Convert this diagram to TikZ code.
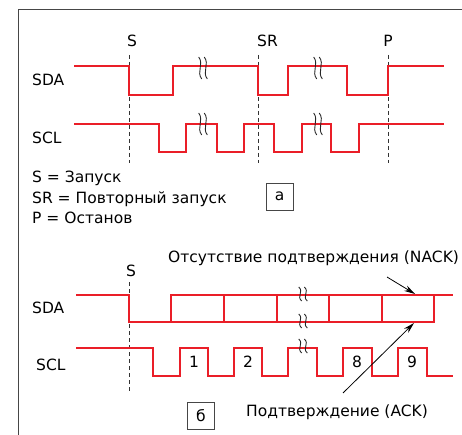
\documentclass[tikz,border=0pt]{standalone}
\usepackage{fontspec}
\setmainfont{DejaVu Sans}
\usetikzlibrary{arrows.meta}
\definecolor{sigred}{RGB}{234,30,40}
\definecolor{framegray}{RGB}{70,70,70}

% wavy break mark, two strokes around (#1,#2), half height #3
\newcommand{\brkmark}[3]{%
  \foreach \d in {-2.8,2.8}
    \draw[black!85,line width=0.9pt] ({#1+\d-1.5},{#2-#3}) .. controls ({#1+\d+4},{#2-#3/3}) and ({#1+\d-4},{#2+#3/3}) .. ({#1+\d+1.5},{#2+#3});}

\begin{document}
\begin{tikzpicture}[x=1pt,y=-1pt,
  sig/.style={draw=sigred,line width=1.7pt},
  guide/.style={black!80,line width=0.8pt,dash pattern=on 4pt off 3pt},
  lbl/.style={inner sep=0pt,font=\fontsize{15.5}{18}\selectfont},
  tag/.style={draw=framegray,line width=0.8pt,minimum width=27pt,minimum height=27pt,inner sep=0pt,font=\fontsize{15.5}{18}\selectfont},
  arr/.style={-{Stealth[length=11pt,width=6pt]},line width=0.8pt}]
\useasboundingbox (0,0) rectangle (462,435);
\draw[framegray,line width=1pt] (462,10) -- (18,10) -- (18,435);

% (a) start, repeated start, stop
\node[lbl,anchor=base] (sa) at (132,47) {S};
\node[lbl,anchor=base west] (sra) at (257,47) {SR};
\node[lbl,anchor=base] (pa) at (388,47) {P};
\node[lbl,anchor=base west] (sdaa) at (32,86) {SDA};
\node[lbl,anchor=base west] (scla) at (32,144) {SCL};

\draw[guide] (129,55) -- (129,163);
\draw[guide] (258,55) -- (258,163);
\draw[guide] (388,55) -- (388,163);

\draw[sig] (74,66) -- (129,66) -- (129,95) -- (173,95) -- (173,66) -- (258,66) -- (258,95)
  -- (288,95) -- (288,66) -- (347,66) -- (347,95) -- (388,95) -- (388,66) -- (444,66);
\draw[sig] (74,124) -- (159,124) -- (159,152) -- (186,152) -- (186,124) -- (217,124)
  -- (217,152) -- (244,152) -- (244,124) -- (274,124) -- (274,152) -- (302,152)
  -- (302,124) -- (331,124) -- (331,152) -- (359,152) -- (359,124) -- (444,124);
\brkmark{203}{68}{11}
\brkmark{203}{124}{11}
\brkmark{318}{68}{11}
\brkmark{318}{124}{11}

\node[lbl,anchor=base west] (leg1) at (32,183) {S = Запуск};
\node[lbl,anchor=base west] (leg2) at (32,204) {SR = Повторный запуск};
\node[lbl,anchor=base west] (leg3) at (32,224) {P = Останов};
\node[tag] (taga) at (279.5,196.5) {а};

% (b) bytes with acknowledge
\node[lbl,anchor=base] (sb) at (131,276) {S};
\node[lbl,anchor=base west] (sdab) at (32,313) {SDA};
\node[lbl,anchor=base west] (sclb) at (36,370) {SCL};
\draw[guide] (129,282) -- (129,392);

\draw[sig] (76,295) -- (129,295) -- (129,322) -- (434,322) -- (434,295) -- (453,295);
\draw[sig] (171,322) -- (171,295) -- (434,295);
\foreach \x in {224,277,329,382}
  \draw[sig] (\x,295) -- (\x,322);
\draw[sig] (76,348) -- (153,348) -- (153,376) -- (180,376) -- (180,348) -- (208,348)
  -- (208,376) -- (234,376) -- (234,348) -- (262,348) -- (262,376) -- (288,376)
  -- (288,348) -- (317,348) -- (317,376) -- (343,376) -- (343,348) -- (372,348)
  -- (372,376) -- (398,376) -- (398,348) -- (427,348) -- (427,376) -- (453,376);
\brkmark{303}{294}{7}
\brkmark{303}{321}{7}
\brkmark{303}{346}{7}

\node[lbl,anchor=base] (bit1) at (194,367) {1};
\node[lbl,anchor=base] (bit2) at (248,367) {2};
\node[lbl,anchor=base] (bit8) at (357,367) {8};
\node[lbl,anchor=base] (bit9) at (412,367) {9};

\node[lbl,anchor=base west] (nack) at (168,262) {Отсутствие подтверждения (NACK)};
\node[lbl,anchor=base west] (ack) at (246,416) {Подтверждение (ACK)};
\coordinate (nacktip) at (415,294);
\coordinate (acktip) at (414,323);
\draw[arr] (387,277) -- (nacktip);
\draw[arr] (343,393) -- (acktip);
\node[tag] (tagb) at (201,416) {б};
\end{tikzpicture}
\end{document}
